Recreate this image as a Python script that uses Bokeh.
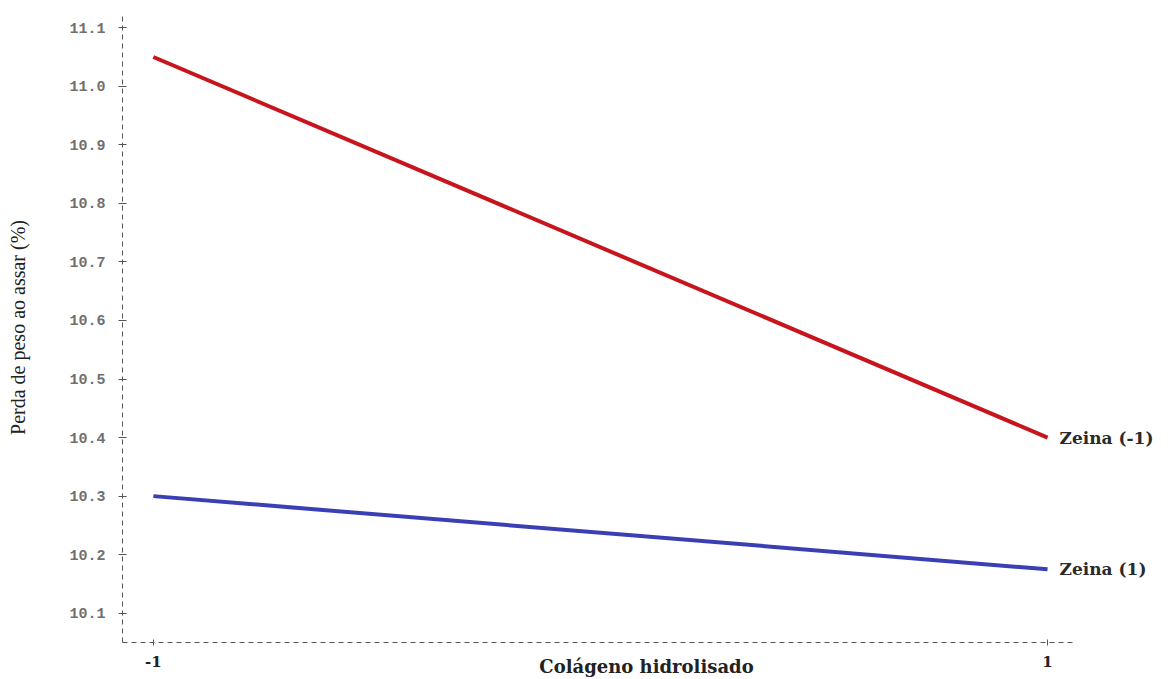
from bokeh.plotting import figure
from bokeh.models import FixedTicker, Range1d
from bokeh.core.properties import value
from bokeh.embed import file_html
from bokeh.resources import INLINE

# Data
x_levels = [-1, 1]
zeina_neg1 = [11.05, 10.40]
zeina_pos1 = [10.30, 10.175]
series_labels = ["Zeina (-1)", "Zeina (1)"]
y_ticks = [10.1, 10.2, 10.3, 10.4, 10.5, 10.6, 10.7, 10.8, 10.9, 11.0, 11.1]
y_tick_labels = ["10.1", "10.2", "10.3", "10.4", "10.5", "10.6", "10.7", "10.8", "10.9", "11.0", "11.1"]
x_tick_labels = ["-1", "1"]

X_START, X_AXIS_END, X_END = -1.069, 1.063, 1.275

p = figure(width=1170, height=679, output_backend="svg", toolbar_location=None,
           x_range=Range1d(X_START, X_END), y_range=Range1d(10.05, 11.126),
           min_border_left=122, min_border_right=0, min_border_top=12, min_border_bottom=37)
p.outline_line_color = None
p.xgrid.visible = False
p.ygrid.visible = False
p.background_fill_color = "white"

p.line(x_levels, zeina_neg1, line_color="#c8141c", line_width=4)
p.line(x_levels, zeina_pos1, line_color="#3a3fb4", line_width=4)

p.text(x=[x_levels[-1], x_levels[-1]], y=[zeina_neg1[-1], zeina_pos1[-1]], text=series_labels,
       x_offset=12, text_baseline="middle", text_font=value("DejaVu Serif"),
       text_font_style="bold", text_font_size="17px", text_color="#2a2a2a")

# Y axis
ya = p.yaxis[0]
ya.ticker = FixedTicker(ticks=y_ticks)
ya.major_label_overrides = {t: s for t, s in zip(y_ticks, y_tick_labels)}
ya.major_label_text_font = "Liberation Mono"
ya.major_label_text_font_size = "15px"
ya.major_label_text_font_style = "bold"
ya.major_label_text_color = "#707070"
ya.major_tick_in = 4
ya.major_tick_out = 4
ya.minor_tick_line_color = None
ya.major_tick_line_color = "#555555"
ya.axis_line_color = "#555555"
ya.axis_line_dash = "5 4"
ya.major_label_standoff = 13
ya.axis_label = "Perda de peso ao assar (%)"
ya.axis_label_text_font = "Liberation Serif"
ya.axis_label_text_font_style = "normal"
ya.axis_label_text_font_size = "20px"
ya.axis_label_text_color = "#222222"
ya.axis_label_standoff = 37

# X axis
xa = p.xaxis[0]
xa.bounds = (X_START, X_AXIS_END)
xa.ticker = FixedTicker(ticks=x_levels)
xa.major_label_overrides = {t: s for t, s in zip(x_levels, x_tick_labels)}
xa.major_label_text_font = "DejaVu Serif"
xa.major_label_text_font_style = "bold"
xa.major_label_text_font_size = "15px"
xa.major_label_text_color = "#222222"
xa.major_tick_in = 3
xa.major_tick_out = 3
xa.minor_tick_line_color = None
xa.major_tick_line_color = "#555555"
xa.axis_line_color = "#555555"
xa.axis_line_dash = "5 4"
xa.major_label_standoff = 10
xa.axis_label = "Colágeno hidrolisado"
xa.axis_label_text_font = "DejaVu Serif"
xa.axis_label_text_font_style = "bold"
xa.axis_label_text_font_size = "18px"
xa.axis_label_text_color = "#222222"
xa.axis_label_standoff = -14

open("out.html", "w").write(file_html(p, INLINE))
